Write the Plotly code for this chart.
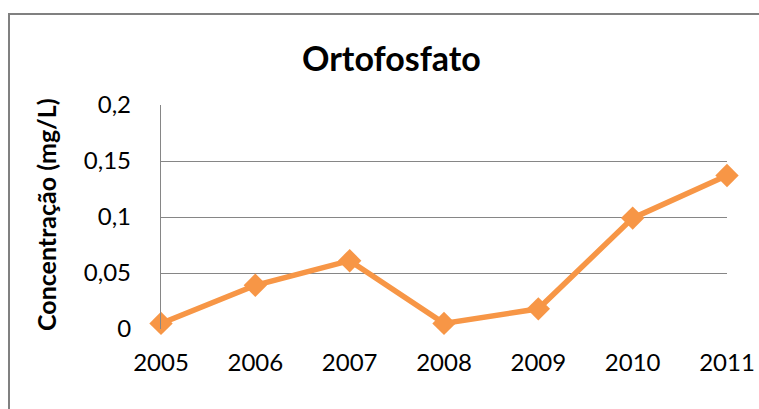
import plotly.graph_objects as go

years = [2005, 2006, 2007, 2008, 2009, 2010, 2011]
values = [0.005, 0.039, 0.061, 0.005, 0.018, 0.099, 0.137]
y_ticks = [0, 0.05, 0.1, 0.15, 0.2]
y_tick_labels = ["0", "0,05", "0,1", "0,15", "0,2"]

W, H = 759, 409
L, R, T, B = 161, 32, 105, 80
pw, ph = W - L - R, H - T - B

def px_x(x):
    return (x - L) / pw

def px_y(y):
    return (H - B - y) / ph

orange = "#F79646"
grid = "#868686"
font = "Lato"

fig = go.Figure()
fig.add_trace(go.Scatter(
    x=years, y=values, mode="lines+markers",
    line=dict(color=orange, width=5.5),
    marker=dict(symbol="diamond", size=18, color=orange),
    cliponaxis=False, showlegend=False,
))

fig.update_layout(
    width=W, height=H,
    margin=dict(l=L, r=R, t=T, b=B, autoexpand=False),
    paper_bgcolor="white", plot_bgcolor="white",
    font=dict(family=font, color="black"),
    xaxis=dict(
        range=[2005, 2011], tickmode="array", tickvals=years,
        ticktext=[str(y) for y in years], automargin=False,
        showgrid=False, zeroline=False, showline=False, ticks="",
        tickfont=dict(size=24, family=font), ticklabelstandoff=17,
    ),
    yaxis=dict(
        range=[0, 0.2], tickmode="array", tickvals=y_ticks, ticktext=y_tick_labels,
        automargin=False,
        showgrid=True, gridcolor=grid, gridwidth=1.3, zeroline=False,
        showline=True, linecolor=grid, linewidth=1.3, ticks="",
        tickfont=dict(size=24, family=font), ticklabelstandoff=24,
    ),
    shapes=[dict(
        type="rect", xref="paper", yref="paper",
        x0=px_x(9), x1=px_x(W + 20), y0=px_y(H + 20), y1=px_y(14),
        line=dict(color="#808080", width=2), fillcolor="rgba(0,0,0,0)", layer="below",
    )],
    annotations=[
        dict(text="<b>Ortofosfato</b>", xref="paper", yref="paper",
             x=px_x(391), y=px_y(57), xanchor="center", yanchor="middle",
             showarrow=False, font=dict(size=34, family=font, color="black")),
        dict(text="<b>Concentração (mg/L)</b>", xref="paper", yref="paper",
             x=px_x(46), y=px_y(215), xanchor="center", yanchor="middle",
             textangle=-90, showarrow=False,
             font=dict(size=25, family=font, color="black")),
    ],
)

fig.write_html("out.html", config={"displayModeBar": False},
               post_script="document.body.style.margin='0';")
